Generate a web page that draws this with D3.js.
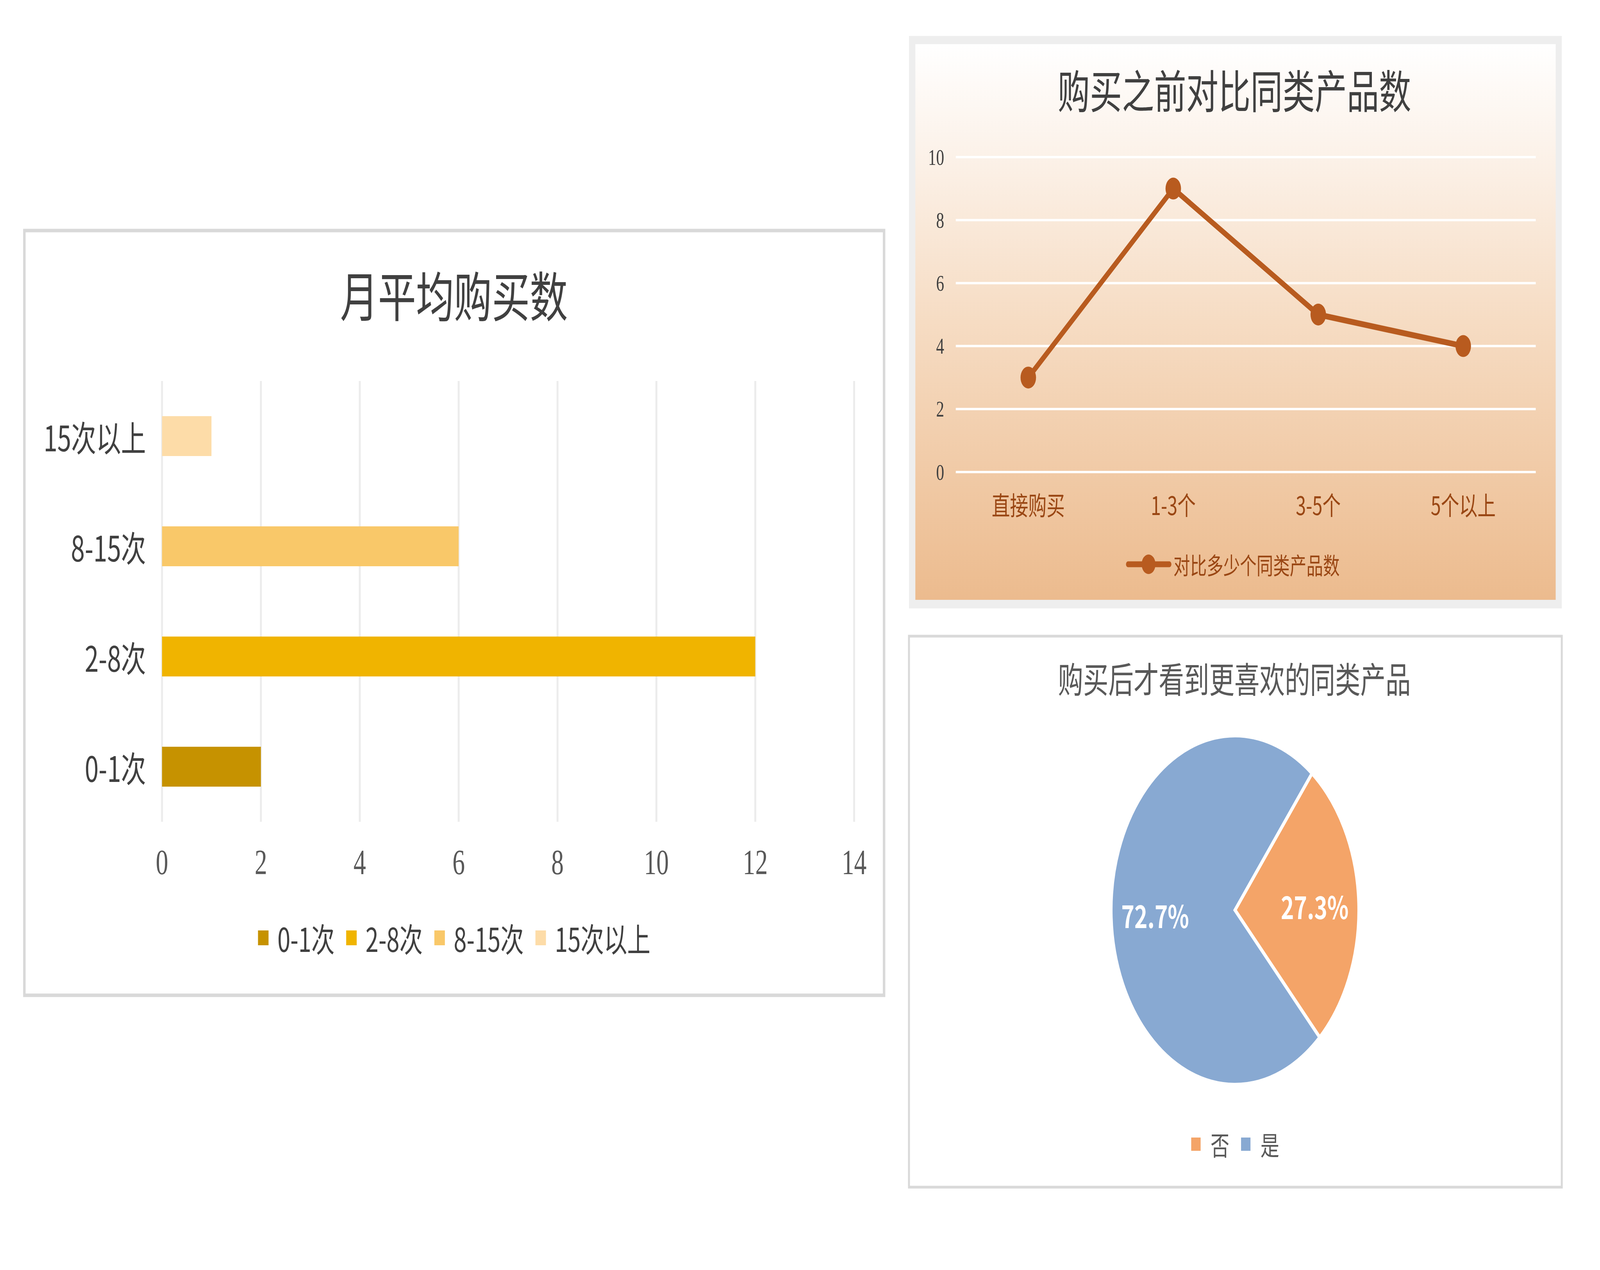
<!DOCTYPE html>
<html><head><meta charset="utf-8">
<script src="https://cdn.jsdelivr.net/npm/d3@7"></script>
<style>html,body{margin:0;padding:0;background:#fff;width:100%;height:100%;overflow:hidden;}svg{display:block;width:100vw;height:100vh;}</style>
</head><body>
<svg id="c" viewBox="0 0 5777 3250" preserveAspectRatio="none"></svg>
<script>
// ---------- data ----------
const barCategories = ["0-1次", "2-8次", "8-15次", "15次以上"];
const barValues = [2, 12, 6, 1];
const barColors = ["#C69200", "#F0B400", "#F9C869", "#FDDCA8"];
const barTicks = [0, 2, 4, 6, 8, 10, 12, 14];
const barTitle = "月平均购买数";

const lineCategories = ["直接购买", "1-3个", "3-5个", "5个以上"];
const lineValues = [3, 9, 5, 4];
const lineTicks = [0, 2, 4, 6, 8, 10];
const lineSeriesName = "对比多少个同类产品数";
const lineTitle = "购买之前对比同类产品数";

const pieLabels = ["否", "是"];
const pieValues = [27.3, 72.7];
const pieColors = ["#F4A468", "#88A9D2"];
const pieTitle = "购买后才看到更喜欢的同类产品";

const CJK = "'Noto Sans CJK SC','Noto Sans',sans-serif";
const SERIF = "'Liberation Serif','DejaVu Serif',serif";

const svg = d3.select("#c");
const defs = svg.append("defs");

// ================= Bar chart =================
const g1 = svg.append("g");
g1.append("rect").attr("x", 88).attr("y", 590).attr("width", 3104).attr("height", 1957)
  .attr("fill", "#fff").attr("stroke", "#d9d9d9").attr("stroke-width", 9);
g1.append("text").attr("x", 1639).attr("y", 751).attr("text-anchor", "middle")
  .attr("dominant-baseline", "central").attr("font-family", CJK).attr("font-size", 137)
  .attr("fill", "#404040").text(barTitle);

const bx = d3.scaleLinear().domain([0, 14]).range([585, 3084]);
const by = d3.scaleBand().domain(barCategories.slice().reverse()).range([975, 2103])
  .paddingInner(0.638).paddingOuter(0.319);

g1.append("g").selectAll("line").data(barTicks).join("line")
  .attr("x1", d => bx(d)).attr("x2", d => bx(d)).attr("y1", 975).attr("y2", 2103)
  .attr("stroke", "#ececec").attr("stroke-width", 7);

g1.append("g").selectAll("rect").data(barCategories).join("rect")
  .attr("x", bx(0)).attr("y", d => by(d))
  .attr("width", (d, i) => bx(barValues[i]) - bx(0)).attr("height", by.bandwidth())
  .attr("fill", (d, i) => barColors[i]);

g1.append("g").selectAll("text").data(barTicks).join("text")
  .attr("x", d => bx(d)).attr("y", 2206).attr("text-anchor", "middle")
  .attr("dominant-baseline", "central").attr("font-family", SERIF).attr("font-size", 90)
  .attr("fill", "#595959").text(d => d);

g1.append("g").selectAll("text").data(barCategories).join("text")
  .attr("x", 527).attr("y", d => by(d) + by.bandwidth() / 2).attr("text-anchor", "end")
  .attr("dominant-baseline", "central").attr("font-family", CJK).attr("font-size", 90)
  .attr("fill", "#404040").text(d => d);

// legend
(function () {
  const lg = g1.append("g");
  const sq = 38, gapT = 32, gapI = 42, fs = 84, cy = 2400;
  let x = 0;
  barCategories.forEach((c, i) => {
    lg.append("rect").attr("x", x).attr("y", cy - sq / 2).attr("width", sq).attr("height", sq).attr("fill", barColors[i]);
    const t = lg.append("text").attr("x", x + sq + gapT).attr("y", cy).attr("dominant-baseline", "central")
      .attr("font-family", CJK).attr("font-size", fs).attr("fill", "#404040").text(c);
    x += sq + gapT + t.node().getComputedTextLength() + gapI;
  });
  const total = x - gapI;
  lg.attr("transform", `translate(${1640 - total / 2},0)`);
})();

// ================= Line chart =================
const g2 = svg.append("g");
const grad = defs.append("linearGradient").attr("id", "lg").attr("x1", 0).attr("y1", 0).attr("x2", 0).attr("y2", 1);
grad.append("stop").attr("offset", 0).attr("stop-color", "#ffffff");
grad.append("stop").attr("offset", 0.18).attr("stop-color", "#fcf3eb");
grad.append("stop").attr("offset", 0.5).attr("stop-color", "#f6dcc3");
grad.append("stop").attr("offset", 1).attr("stop-color", "#ecbb8e");
g2.append("rect").attr("x", 3282).attr("y", 92).attr("width", 2357).attr("height", 1465).attr("fill", "#eeeeee");
g2.append("rect").attr("x", 3305).attr("y", 113).attr("width", 2312).attr("height", 1422).attr("fill", "url(#lg)");
g2.append("text").attr("x", 4457).attr("y", 226).attr("text-anchor", "middle")
  .attr("dominant-baseline", "central").attr("font-family", CJK).attr("font-size", 116)
  .attr("fill", "#404040").text(lineTitle);

const ly = d3.scaleLinear().domain([0, 10]).range([1208, 402]);
const lx = d3.scaleBand().domain(lineCategories).range([3451, 5545]);
const cx = d => lx(d) + lx.bandwidth() / 2;

g2.append("g").selectAll("line").data(lineTicks).join("line")
  .attr("x1", 3451).attr("x2", 5545).attr("y1", d => ly(d)).attr("y2", d => ly(d))
  .attr("stroke", "#ffffff").attr("stroke-width", 6);

g2.append("g").selectAll("text").data(lineTicks).join("text")
  .attr("x", 3409).attr("y", d => ly(d)).attr("text-anchor", "end")
  .attr("dominant-baseline", "central").attr("font-family", SERIF).attr("font-size", 58)
  .attr("fill", "#404040").text(d => d);

g2.append("g").selectAll("text").data(lineCategories).join("text")
  .attr("x", d => cx(d)).attr("y", 1289).attr("text-anchor", "middle")
  .attr("dominant-baseline", "central").attr("font-family", CJK).attr("font-size", 66)
  .attr("fill", "#9a4714").text(d => d);

const lineGen = d3.line().x((d, i) => cx(lineCategories[i])).y(d => ly(d));
g2.append("path").datum(lineValues).attr("d", lineGen).attr("fill", "none")
  .attr("stroke", "#b85b1f").attr("stroke-width", 15).attr("stroke-linejoin", "round");
g2.append("g").selectAll("circle").data(lineValues).join("circle")
  .attr("cx", (d, i) => cx(lineCategories[i])).attr("cy", d => ly(d)).attr("r", 28)
  .attr("fill", "#b85b1f");

g2.append("line").attr("x1", 4073).attr("x2", 4222).attr("y1", 1444).attr("y2", 1444)
  .attr("stroke", "#b85b1f").attr("stroke-width", 15).attr("stroke-linecap", "round");
g2.append("circle").attr("cx", 4147).attr("cy", 1444).attr("r", 25).attr("fill", "#b85b1f");
g2.append("text").attr("x", 4237).attr("y", 1444).attr("dominant-baseline", "central")
  .attr("font-family", CJK).attr("font-size", 60).attr("fill", "#9a4714").text(lineSeriesName);

// ================= Pie chart =================
const g3 = svg.append("g");
g3.append("rect").attr("x", 3282).attr("y", 1628).attr("width", 2357).attr("height", 1410)
  .attr("fill", "#fff").attr("stroke", "#d9d9d9").attr("stroke-width", 7);
g3.append("text").attr("x", 4457).attr("y", 1734).attr("text-anchor", "middle")
  .attr("dominant-baseline", "central").attr("font-family", CJK).attr("font-size", 91)
  .attr("fill", "#595959").text(pieTitle);

const R = 447;
const start = 38.5 * Math.PI / 180;
const pie = d3.pie().sort(null).startAngle(start).endAngle(start + 2 * Math.PI);
const arcs = pie(pieValues);
const arc = d3.arc().innerRadius(0).outerRadius(R);
const labelArc = d3.arc().innerRadius(R * 0.645).outerRadius(R * 0.645);
const pg = g3.append("g").attr("transform", "translate(4459,2329)");
pg.selectAll("path").data(arcs).join("path").attr("d", arc)
  .attr("fill", (d, i) => pieColors[i]).attr("stroke", "#fff").attr("stroke-width", 10)
  .attr("stroke-linejoin", "miter");
pg.selectAll("text").data(arcs).join("text")
  .attr("transform", d => `translate(${labelArc.centroid(d)})`)
  .attr("text-anchor", "middle").attr("dominant-baseline", "central")
  .attr("font-family", CJK).attr("font-weight", "bold").attr("font-size", 80)
  .attr("fill", "#fff").text(d => d.data.toFixed(1) + "%");

(function () {
  const lg = g3.append("g");
  const sq = 34, gapT = 36, gapI = 42, fs = 68, cy = 2928;
  let x = 0;
  pieLabels.forEach((c, i) => {
    lg.append("rect").attr("x", x).attr("y", cy - sq / 2).attr("width", sq).attr("height", sq).attr("fill", pieColors[i]);
    const t = lg.append("text").attr("x", x + sq + gapT).attr("y", cy).attr("dominant-baseline", "central")
      .attr("font-family", CJK).attr("font-size", fs).attr("fill", "#595959").text(c);
    x += sq + gapT + t.node().getComputedTextLength() + gapI;
  });
  const total = x - gapI;
  lg.attr("transform", `translate(${4460 - total / 2},0)`);
})();
</script>
</body></html>
